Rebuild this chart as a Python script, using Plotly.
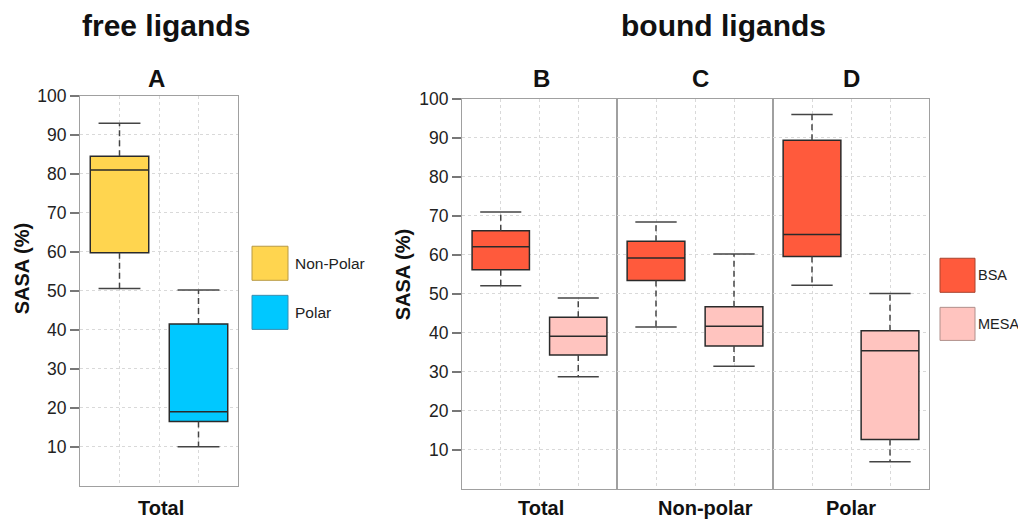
import plotly.graph_objects as go

# ---------------- data ----------------
free_groups = ["Non-Polar", "Polar"]
free_low = [50.6, 10.0]
free_q1 = [59.8, 16.5]
free_med = [81.0, 19.0]
free_q3 = [84.5, 41.5]
free_high = [93.0, 50.2]
free_colors = ["#FFD54F", "#00C8FF"]
free_edges = ["#B89A45", "#3B8FB0"]

bound_panels = ["Total", "Non-polar", "Polar"]
bound_letters = ["B", "C", "D"]
bound_groups = ["BSA", "MESA"]
bsa_low = [52.1, 41.5, 52.2]
bsa_q1 = [56.2, 53.4, 59.6]
bsa_med = [62.1, 59.2, 65.2]
bsa_q3 = [66.2, 63.5, 89.4]
bsa_high = [71.0, 68.4, 96.0]
mesa_low = [28.7, 31.4, 6.9]
mesa_q1 = [34.3, 36.6, 12.6]
mesa_med = [39.1, 41.7, 35.4]
mesa_q3 = [44.0, 46.7, 40.5]
mesa_high = [48.9, 60.2, 50.1]
bound_colors = ["#FF5A3C", "#FFC4BF"]
bound_edges = ["#A8442F", "#B0908C"]

yticks = [10, 20, 30, 40, 50, 60, 70, 80, 90, 100]

# ---------------- layout helpers ----------------
W, H = 1026, 523
FONT = "Liberation Sans, Arial, Helvetica, sans-serif"

# mapping from target-picture pixels to paper coordinates (empirical page offset)
OX, OY, SY = 8.0, 17.2, 0.979


def px(x):
    return (x - OX) / W


def py(y):
    return 1 - ((y - OY) / SY) / H


POS = [1, 3]          # box positions inside each panel (range 0..4)
BOXW = 1.48
CAP = 0.53

fig = go.Figure()


def add_box(xa, ya, pos, lo, q1, med, q3, hi, fill, name):
    fig.add_trace(go.Box(
        x=[pos], q1=[q1], median=[med], q3=[q3],
        lowerfence=[q1], upperfence=[q3],
        width=BOXW, fillcolor=fill, whiskerwidth=0,
        line=dict(color="#2a2a2a", width=1.5),
        boxpoints=False, name=name, showlegend=False,
        xaxis=xa, yaxis=ya, hoverinfo="skip"))
    fig.add_trace(go.Scatter(
        x=[pos, pos, None, pos, pos], y=[q3, hi, None, q1, lo],
        mode="lines", line=dict(color="#444", width=1.5, dash="6px,4px"),
        showlegend=False, xaxis=xa, yaxis=ya, hoverinfo="skip"))
    fig.add_trace(go.Scatter(
        x=[pos - CAP, pos + CAP, None, pos - CAP, pos + CAP], y=[hi, hi, None, lo, lo],
        mode="lines", line=dict(color="#444", width=1.5),
        showlegend=False, xaxis=xa, yaxis=ya, hoverinfo="skip"))


# panel A
for i, g in enumerate(free_groups):
    add_box("x", "y", POS[i], free_low[i], free_q1[i], free_med[i], free_q3[i],
            free_high[i], free_colors[i], g)

# panels B-D
for k in range(3):
    xa, ya = "x%d" % (k + 2), "y%d" % (k + 2)
    add_box(xa, ya, POS[0], bsa_low[k], bsa_q1[k], bsa_med[k], bsa_q3[k], bsa_high[k],
            bound_colors[0], "BSA")
    add_box(xa, ya, POS[1], mesa_low[k], mesa_q1[k], mesa_med[k], mesa_q3[k], mesa_high[k],
            bound_colors[1], "MESA")

GRID = "#d9d9d9"
LINE = "#a0a0a0"

xcommon = dict(range=[0, 4], tickvals=[1, 2, 3], showticklabels=False, ticks="",
               showgrid=True, gridcolor=GRID, griddash="dot", gridwidth=1,
               showline=True, mirror=True, linecolor=LINE, linewidth=1.2,
               zeroline=False, fixedrange=True)
ycommon = dict(range=[0, 100], tickvals=yticks, showgrid=True, gridcolor=GRID,
               griddash="dot", gridwidth=1, showline=True, mirror=True,
               linecolor=LINE, linewidth=1.2, zeroline=False, fixedrange=True)

x_domains = [(80, 238), (462, 617), (617, 773), (773, 929)]
y_domains = [(95, 484), (98, 487), (98, 487), (98, 487)]

layout_axes = {}
for i in range(4):
    sx = "" if i == 0 else str(i + 1)
    xd = x_domains[i]
    yd = y_domains[i]
    layout_axes["xaxis" + sx] = dict(xcommon, domain=[px(xd[0]), px(xd[1])],
                                     anchor="y" + sx)
    yax = dict(ycommon, domain=[py(yd[1]), py(yd[0])], anchor="x" + sx)
    if i in (0, 1):
        yax.update(ticks="outside", ticklen=9, tickcolor="#777", tickwidth=1.5,
                   showticklabels=True,
                   tickfont=dict(family=FONT, size=17.5, color="#222"))
    else:
        yax.update(ticks="", showticklabels=False)
    layout_axes["yaxis" + sx] = yax

annotations = []


def text(x, y, s, size, bold=False, angle=0, xanchor="center", color="#111"):
    annotations.append(dict(
        x=px(x), y=py(y), xref="paper", yref="paper", text=("<b>%s</b>" % s) if bold else s,
        showarrow=False, xanchor=xanchor, yanchor="middle", textangle=angle,
        font=dict(family=FONT, size=size, color=color)))


text(166, 25, "free ligands", 30, bold=True)
text(723, 25, "bound ligands", 30, bold=True)
text(156, 78, "A", 24, bold=True)
for k, letter in enumerate(bound_letters):
    text([541, 700, 851][k], 78, letter, 24, bold=True)

text(22, 268, "SASA (%)", 20, bold=True, angle=-90)
text(403, 274, "SASA (%)", 20, bold=True, angle=-90)

text(161, 506, "Total", 20, bold=True)
for k, p in enumerate(bound_panels):
    text([541, 705, 851][k], 506, p, 20, bold=True)

shapes = []
# legend A
leg_a = [(245, 279), (294, 328)]
for i, g in enumerate(free_groups):
    y0, y1 = leg_a[i]
    shapes.append(dict(type="rect", xref="paper", yref="paper",
                       x0=px(252), x1=px(288), y0=py(y1), y1=py(y0),
                       fillcolor=free_colors[i], line=dict(color=free_edges[i], width=1)))
    text(293, (y0 + y1) / 2, g, 15.5, xanchor="left", color="#222")
# legend B-D
leg_b = [(257, 291), (306, 339)]
for i, g in enumerate(bound_groups):
    y0, y1 = leg_b[i]
    shapes.append(dict(type="rect", xref="paper", yref="paper",
                       x0=px(940), x1=px(975), y0=py(y1), y1=py(y0),
                       fillcolor=bound_colors[i], line=dict(color=bound_edges[i], width=1)))
    text(976, (y0 + y1) / 2, g, 14.5, xanchor="left", color="#222")

fig.update_layout(
    width=W, height=H, margin=dict(l=0, r=0, t=0, b=0),
    paper_bgcolor="white", plot_bgcolor="white",
    showlegend=False, annotations=annotations, shapes=shapes,
    font=dict(family=FONT),
    **layout_axes)

fig.write_html("out.html")
